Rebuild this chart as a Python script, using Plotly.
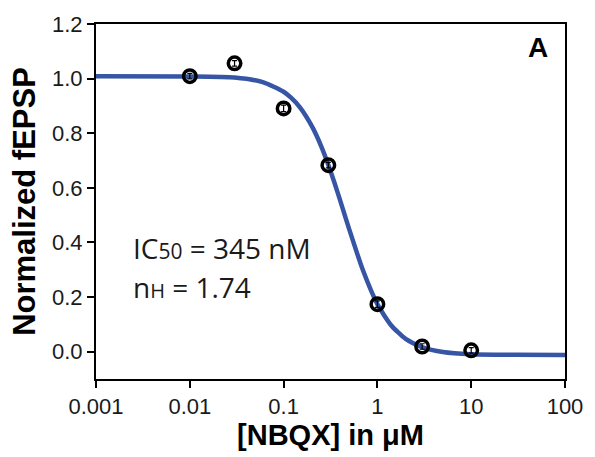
import plotly.graph_objects as go

# Measured data points
conc_uM = [0.01, 0.03, 0.1, 0.3, 1.0, 3.0, 10.0]
norm_fepsp = [1.009, 1.056, 0.891, 0.683, 0.174, 0.019, 0.005]
sem = [0.010, 0.010, 0.012, 0.010, 0.012, 0.010, 0.010]

# Fitted curve
curve_x = [0.001, 0.01, 0.03, 0.06, 0.1, 0.12, 0.15, 0.2, 0.25, 0.3, 0.35, 0.4, 0.5, 0.7,
           1.0, 1.4, 2.0, 3.0, 5.0, 10.0, 30.0, 100.0]
curve_y = [1.009, 1.008, 1.004, 0.987, 0.952, 0.930, 0.894, 0.826, 0.755, 0.684, 0.617, 0.555,
           0.449, 0.299, 0.174, 0.097, 0.047, 0.017, -0.001, -0.009, -0.011, -0.012]

x_ticks = [0.001, 0.01, 0.1, 1, 10, 100]
x_ticktext = ["0.001", "0.01", "0.1", "1", "10", "100"]
y_ticks = [0.0, 0.2, 0.4, 0.6, 0.8, 1.0, 1.2]

fig = go.Figure()
fig.add_trace(go.Scatter(
    x=curve_x, y=curve_y, mode="lines",
    line=dict(color="rgb(55,85,165)", width=4.5, shape="spline", smoothing=0.6),
    hoverinfo="skip", showlegend=False))
fig.add_trace(go.Scatter(
    x=conc_uM, y=norm_fepsp, mode="markers",
    marker=dict(symbol="circle", size=12.5, color="rgba(255,255,255,0)",
                line=dict(color="black", width=3.5)),
    error_y=dict(type="data", array=sem, color="black", thickness=1.2, width=2.5),
    showlegend=False))

axis_font = dict(family="Liberation Sans, Arial", size=22, color="#1a1a1a")
title_font = dict(family="Liberation Sans, Arial", size=29, color="black")

fig.update_layout(
    width=595, height=457,
    margin=dict(l=96, r=26, t=23, b=78),
    paper_bgcolor="white", plot_bgcolor="white",
    xaxis=dict(type="log", range=[-3, 2], tickvals=x_ticks, ticktext=x_ticktext,
               showline=True, linecolor="black", linewidth=2, mirror=True,
               ticks="outside", ticklen=7, tickwidth=1.5, tickcolor="black",
               showgrid=False, zeroline=False, tickfont=axis_font,
               title=dict(text="<b>[NBQX] in μM</b>", font=title_font, standoff=4)),
    yaxis=dict(range=[-0.1, 1.2], tickvals=y_ticks, tickformat=".1f",
               showline=True, linecolor="black", linewidth=2, mirror=True,
               ticks="outside", ticklen=7, tickwidth=1.5, tickcolor="black",
               showgrid=False, zeroline=False, tickfont=axis_font,
               title=dict(text="<b>Normalized fEPSP</b>",
                          font=dict(family="Liberation Sans, Arial", size=31, color="black"),
                          standoff=7)),
    annotations=[
        dict(text="<b>A</b>", xref="paper", yref="paper", x=0.942, y=0.935,
             xanchor="center", yanchor="middle", showarrow=False,
             font=dict(family="Liberation Sans, Arial", size=28, color="black")),
        dict(text="IC<span style='font-size:21px'>50</span> = 345 nM",
             xref="paper", yref="paper", x=0.074, y=0.37, xanchor="left",
             yanchor="middle", showarrow=False,
             font=dict(family="Open Sans, Liberation Sans", size=28, color="#1a1a1a")),
        dict(text="n<span style='font-size:20px'>H</span> = 1.74",
             xref="paper", yref="paper", x=0.074, y=0.26, xanchor="left",
             yanchor="middle", showarrow=False,
             font=dict(family="Open Sans, Liberation Sans", size=28, color="#1a1a1a")),
    ],
)

fig.write_html("out.html", config={"displayModeBar": False},
               post_script="document.body.style.margin='0';")
